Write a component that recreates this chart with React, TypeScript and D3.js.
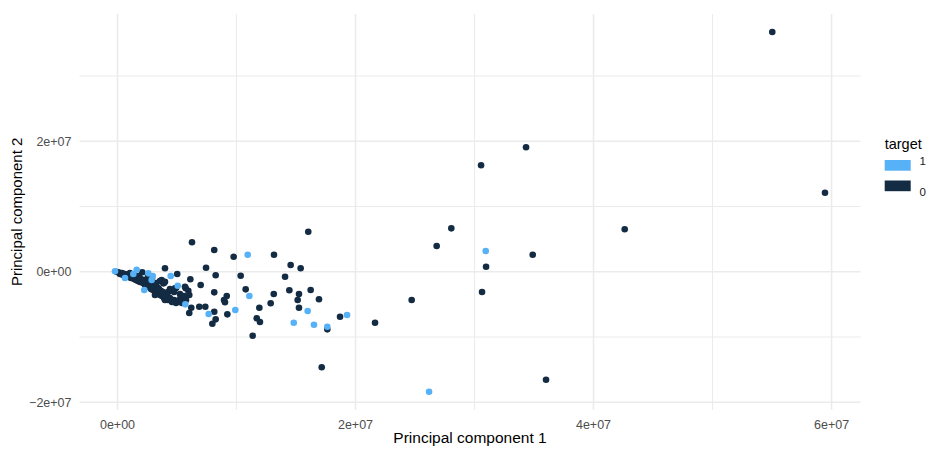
import React from "react";
import * as d3 from "d3";

// Values are in millions (1e6) of the principal-component units.
const UNIT = 1e6;

// target = 0, dense band near the origin
const bandTarget0: [number, number][] = [
  [-0.04, -0.05], [0.13, -0.12], [0.21, -0.35], [0.38, -0.2], [0.46, -0.51], [0.63, -0.35],
  [0.71, -0.66], [0.88, -0.51], [0.97, -0.81], [1.05, -0.2], [1.13, -0.97], [1.3, -0.81],
  [1.39, -1.12], [1.47, -0.66], [1.55, -1.27], [1.64, -0.97], [1.72, -1.43], [1.81, -0.66],
  [1.89, -1.58], [1.97, -1.12], [2.08, -0.09], [2.14, -1.73], [2.23, -1.27], [2.31, -2.04],
  [2.39, -1.58], [2.48, -2.19], [2.56, -1.12], [2.65, -2.34], [2.73, -1.73], [2.82, -2.65],
  [2.9, -2.04], [2.98, -2.8], [3.07, -2.19], [3.24, -2.96], [3.32, -2.34], [3.4, -3.26],
  [3.49, -2.65], [3.57, -3.57], [3.66, -2.96], [3.74, -3.72], [3.82, -3.11], [3.91, -4.03],
  [4.08, -3.88], [4.16, -3.42], [4.24, -4.34], [4.41, -4.03], [4.58, -4.64], [4.75, -4.34],
  [4.92, -4.79], [5.08, -4.49], [5.25, -4.18], [3.24, -1.73], [3.57, -1.43], [3.91, -1.73],
  [2.9, -0.97], [2.56, -0.66], [4.41, -2.65], [4.75, -3.11], [5.25, -3.42], [5.59, -3.72],
  [4.92, -2.5], [5.76, -4.34], [5.42, -4.79], [3.85, -1.78], [3.43, -2.54], [4.27, -3.07],
  [4.83, -2.54], [3.99, -4.34], [4.64, -4.6], [3.15, -3.57], [3.99, -3.57], [3.71, -1.27],
  [3.99, -1.53],
];

// target = 0, spread region
const spreadTarget0: [number, number][] = [
  [6.26, 4.51], [8.13, 3.33], [9.76, 2.3], [13.15, 2.61], [16.03, 6.13], [14.55, 1.03],
  [15.39, 0.52], [14.08, -0.77], [7.44, 0.61], [8.25, -0.55], [10.35, -0.61], [3.99, 0.52],
  [5.02, -0.35], [6.12, -1.16], [6.99, -2.04], [5.73, -2.54], [5.95, -2.91], [6.03, -3.57],
  [8.13, -3.16], [10.77, -2.7], [9.18, -3.72], [8.95, -4.34], [9.03, -4.69], [13.13, -3.42],
  [14.44, -2.85], [15.25, -3.42], [15.14, -4.34], [16.23, -2.8], [16.93, -4.23], [12.87, -4.84],
  [11.92, -5.52], [15.25, -5.52], [6.2, -5.52], [6.03, -6.33], [6.87, -5.36], [7.38, -5.36],
  [8.13, -6.13], [8.25, -7.3], [7.97, -7.97], [9.23, -6.53], [11.7, -7.14], [11.97, -7.71],
  [11.36, -9.81], [17.63, -8.83], [18.7, -6.9], [17.16, -14.65], [5.67, -2.3],
];

// target = 0, far points
const farTarget0: [number, number][] = [
  [55.02, 36.74], [59.45, 12.11], [34.33, 19.07], [30.55, 16.31], [28.05, 6.65], [26.82, 3.94],
  [34.89, 2.61], [30.97, 0.77], [42.62, 6.5], [30.63, -3.11], [24.72, -4.34], [21.64, -7.82],
  [36.01, -16.55],
];

// target = 1
const target1: [number, number][] = [
  [-0.21, 0.06], [1.61, 0.31], [1.33, -0.35], [2.59, -0.25], [2.87, -1.27], [2.25, -2.8],
  [0.63, -0.97], [2.96, -0.66], [10.94, 2.61], [4.47, -0.66], [5.06, -2.15], [11.08, -3.72],
  [15.98, -6.02], [5.7, -5.0], [7.66, -6.48], [9.9, -5.87], [14.81, -7.82], [16.51, -8.12],
  [17.63, -8.43], [19.29, -6.64], [30.94, 3.17], [26.18, -18.39],
];

const targetLevels = ["1", "0"];
const targetColors: Record<string, string> = { "1": "#56B1F7", "0": "#132B43" };

const xMajor = [0, 20, 40, 60];
const xMinor = [10, 30, 50];
const yMajor = [-20, 0, 20];
const yMinor = [-10, 10, 30];

const fmt = (v: number) =>
  d3.format(".0e")(v * UNIT).replace(/e([+-])(\d)$/, "e$10$2");

export default function App() {
  const W = 928, H = 449;
  const left = 79.5, right = 860.5, top = 14, bottom = 409.7;
  const class0 = [...bandTarget0, ...spreadTarget0, ...farTarget0];
  const all = [...class0, ...target1];
  const xe = d3.extent(all, (d) => d[0]) as [number, number];
  const ye = d3.extent(all, (d) => d[1]) as [number, number];
  const xp = (xe[1] - xe[0]) * 0.05;
  const yp = (ye[1] - ye[0]) * 0.05;
  const x = d3.scaleLinear().domain([xe[0] - xp, xe[1] + xp]).range([left, right]);
  const y = d3.scaleLinear().domain([ye[0] - yp, ye[1] + yp]).range([bottom, top]);
  const font = "'Liberation Sans', Arial, Helvetica, sans-serif";
  const grid = "#EBEBEB";

  return (
    <svg
      width={W}
      height={H}
      style={{ position: "absolute", left: 0, top: 0, background: "#fff" }}
      fontFamily={font}
    >
      {/* minor grid */}
      {xMinor.map((v) => (
        <line key={"xm" + v} x1={x(v)} x2={x(v)} y1={top} y2={bottom} stroke={grid} strokeWidth={1.1} />
      ))}
      {yMinor.map((v) => (
        <line key={"ym" + v} x1={left} x2={right} y1={y(v)} y2={y(v)} stroke={grid} strokeWidth={1.1} />
      ))}
      {/* major grid */}
      {xMajor.map((v) => (
        <line key={"xM" + v} x1={x(v)} x2={x(v)} y1={top} y2={bottom} stroke={grid} strokeWidth={1.6} />
      ))}
      {yMajor.map((v) => (
        <line key={"yM" + v} x1={left} x2={right} y1={y(v)} y2={y(v)} stroke={grid} strokeWidth={1.6} />
      ))}

      {/* points */}
      {class0.map((d, i) => (
        <circle key={"a" + i} cx={x(d[0])} cy={y(d[1])} r={3.3} fill={targetColors["0"]} />
      ))}
      {target1.map((d, i) => (
        <circle key={"b" + i} cx={x(d[0])} cy={y(d[1])} r={3.3} fill={targetColors["1"]} />
      ))}

      {/* tick labels */}
      {xMajor.map((v) => (
        <text key={"xt" + v} x={x(v)} y={428.5} textAnchor="middle" fontSize={12.5} fill="#4D4D4D">
          {fmt(v)}
        </text>
      ))}
      {yMajor.map((v) => (
        <text key={"yt" + v} x={71.5} y={y(v) + 4.5} textAnchor="end" fontSize={12.5} fill="#4D4D4D">
          {fmt(v)}
        </text>
      ))}

      {/* axis titles */}
      <text x={(left + right) / 2} y={443} textAnchor="middle" fontSize={15.5} fill="#000">
        Principal component 1
      </text>
      <text
        transform={`translate(22,${(top + bottom) / 2}) rotate(-90)`}
        textAnchor="middle"
        fontSize={15}
        fill="#000"
      >
        Principal component 2
      </text>

      {/* legend */}
      <text x={884.7} y={148.5} fontSize={14.5} fill="#000">target</text>
      {targetLevels.map((lv, i) => (
        <g key={"lg" + lv}>
          <rect x={884.7} y={160 + i * 20.5} width={26} height={10.7} fill={targetColors[lv]} />
          <text x={919.5} y={i === 0 ? 165 : 196} fontSize={11.5} fill="#1A1A1A">
            {lv}
          </text>
        </g>
      ))}
    </svg>
  );
}
